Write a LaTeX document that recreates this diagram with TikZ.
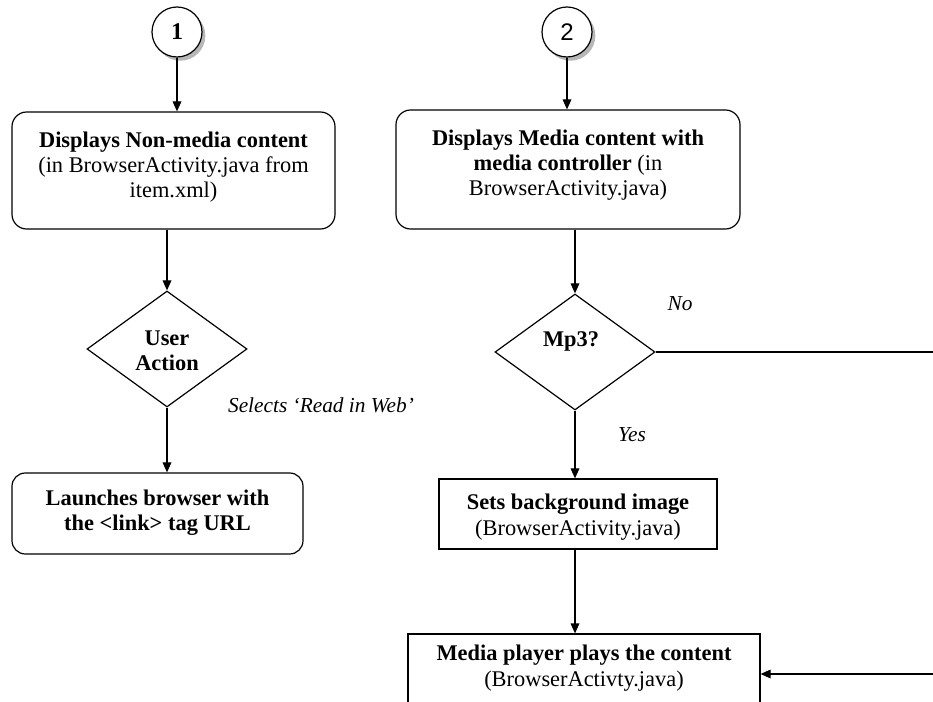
\documentclass[tikz,border=0pt]{standalone}
\usepackage{fontspec}
\setmainfont{Liberation Serif}
\newfontfamily\digitsans{Liberation Sans}
\usetikzlibrary{shapes.geometric,arrows.meta,shadows}

\begin{document}
\begin{tikzpicture}[x=0.75pt,y=-0.75pt,
  every node/.style={font=\fontsize{16.8}{19}\selectfont},
  line/.style={line width=0.9pt},
  arr/.style={line,-{Triangle[length=7.5pt,width=6.5pt]}},
  roundbox/.style={draw,line width=0.9pt,rounded corners=11pt,inner sep=0},
  plainbox/.style={draw,line width=0.9pt,inner sep=0},
  decision/.style={draw,diamond,line width=0.9pt,inner sep=0,
    minimum width=120pt,minimum height=87pt},
  startcircle/.style={draw,circle,line width=0.9pt,fill=white,
    minimum size=37.5pt,inner sep=0,
    drop shadow={shadow xshift=2.5pt,shadow yshift=-2.8pt,fill=black!40,opacity=0.7}},
  txt/.style={align=center,inner sep=0},
  txtb/.style={align=center,inner sep=0,font=\fontsize{16.8}{19}\selectfont\bfseries},
  lbl/.style={inner sep=0,font=\fontsize{16}{19}\selectfont\itshape}
]
\useasboundingbox (0,0) rectangle (933,702);
\clip (0,0) rectangle (933,702);
\fill[white] (0,0) rectangle (933,702);

% start markers
\node[startcircle] (c1) at (177,32) {\fontsize{18}{20}\selectfont\textbf{1}};
\node[startcircle] (c2) at (567,32) {\fontsize{18}{20}\selectfont\digitsans 2};

% left branch: non-media content
\node[roundbox,minimum width=242.25pt,minimum height=87.75pt] (b1) at (173.5,170.5) {};
\node[txt] (t1) at (173.5,167) {{\bfseries Displays Non-media content}\\(in BrowserActivity.java from\\item.xml)};
\node[decision] (d1) at (167,349) {};
\node[txtb] (td1) at (167,351) {User\\Action};
\node[roundbox,rounded corners=10pt,minimum width=218.25pt,minimum height=60.75pt] (b3) at (157.5,513.5) {};
\node[txtb] (t3) at (157.5,513) {Launches browser with\\the \textless link\textgreater{} tag URL};
\node[lbl] (l1) at (321,405) {Selects ‘Read in Web’};

% right branch: media content
\node[roundbox,minimum width=258pt,minimum height=89.25pt] (b2) at (568,169.5) {};
\node[txt] (t2) at (568,165) {{\bfseries Displays Media content with}\\{\bfseries media controller} (in\\BrowserActivity.java)};
\node[decision] (d2) at (575,352) {};
\node[txtb] (td2) at (571,341) {Mp3?};
\node[plainbox,minimum width=208.5pt,minimum height=52.5pt] (b4) at (578,514) {};
\node[txt] (t4) at (578,517) {{\bfseries Sets background image}\\(BrowserActivity.java)};
\node[plainbox,minimum width=264pt,minimum height=57pt] (b5) at (584,672) {};
\node[txt] (t5) at (584,668) {{\bfseries Media player plays the content}\\(BrowserActivty.java)};
\node[lbl] (lno) at (680,304) {No};
\node[lbl] (lyes) at (632,435) {Yes};

% connectors
\draw[arr] (c1.south) -- (c1.south |- b1.north);
\draw[arr] (d1.north |- b1.south) -- (d1.north);
\draw[arr] (d1.south) -- (d1.south |- b3.north);

\draw[arr] (c2.south) -- (c2.south |- b2.north);
\draw[arr] (d2.north |- b2.south) -- (d2.north);
\draw[arr] (d2.south) -- (d2.south |- b4.north);
\draw[arr] (d2.south |- b4.south) -- (d2.south |- b5.north);

\coordinate (noturn) at (935,352);
\coordinate (nodown) at (935,674);
\draw[arr] (d2.east) -- (noturn) -- (nodown) -- (nodown -| b5.east);
\end{tikzpicture}
\end{document}
